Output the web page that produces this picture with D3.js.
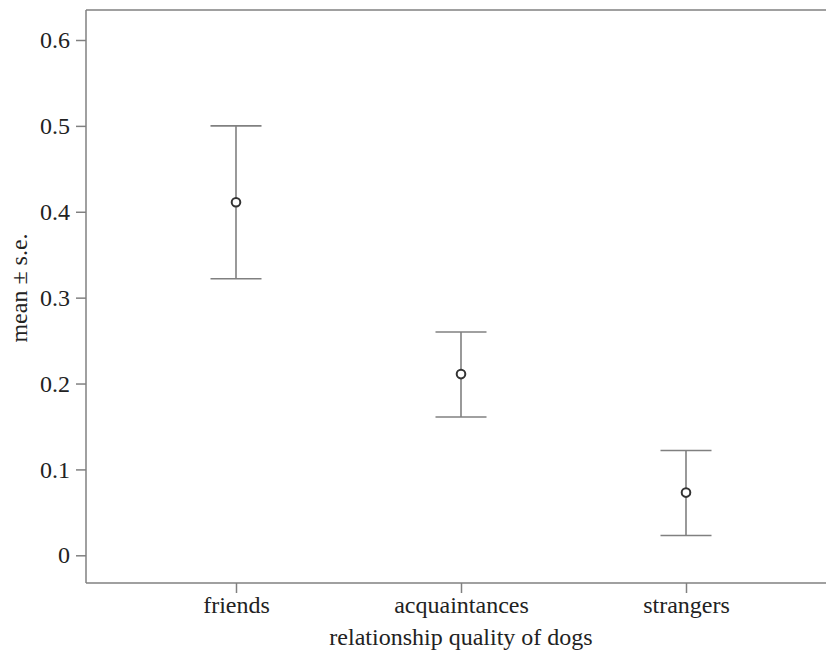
<!DOCTYPE html>
<html>
<head>
<meta charset="utf-8">
<script src="https://cdn.jsdelivr.net/npm/d3@7"></script>
<style>
  html, body { margin: 0; padding: 0; background: #fff; }
  svg { display: block; }
  text { font-family: "Liberation Serif", "Times New Roman", serif; fill: #222; }
</style>
</head>
<body>
<svg id="chart" width="826" height="652"></svg>
<script>
const categories = ["friends", "acquaintances", "strangers"];
const means = [0.411, 0.211, 0.073];
const lower = [0.322, 0.161, 0.023];
const upper = [0.500, 0.260, 0.122];
const yTicks = [0, 0.1, 0.2, 0.3, 0.4, 0.5, 0.6];
const yTickLabels = ["0", "0.1", "0.2", "0.3", "0.4", "0.5", "0.6"];
const xTitle = "relationship quality of dogs";
const yTitle = "mean \u00b1 s.e.";

(function () {
const svg = d3.select("#chart");
const mLeft = 86, mRight = 826, mTop = 10, mBottom = 583;
const axisColor = "#808080";

const y = d3.scaleLinear().domain([0, 0.6]).range([555.3, 40]);
const x = d3.scalePoint().domain(categories).range([236, 686]);

// frame: top line
svg.append("line").attr("x1", mLeft).attr("x2", mRight).attr("y1", mTop).attr("y2", mTop)
  .attr("stroke", axisColor).attr("stroke-width", 1.5);

// y axis
const yAxis = d3.axisLeft(y).tickValues(yTicks).tickFormat((d, i) => yTickLabels[i]).tickSize(10).tickPadding(6);
const gy = svg.append("g").attr("transform", `translate(${mLeft},0)`).call(yAxis);
gy.select(".domain").attr("d", `M0,${mTop}V${mBottom}`).attr("stroke", axisColor).attr("stroke-width", 1.5);
gy.selectAll(".tick line").attr("stroke", axisColor).attr("stroke-width", 1.5);
gy.selectAll(".tick text").attr("font-size", 24).attr("font-family", "Liberation Serif").attr("fill", "#222");

// x axis
const xAxis = d3.axisBottom(x).tickSize(10).tickPadding(4);
const gx = svg.append("g").attr("transform", `translate(0,${mBottom})`).call(xAxis);
gx.select(".domain").attr("d", `M${mLeft},0H${mRight}`).attr("stroke", axisColor).attr("stroke-width", 1.5);
gx.selectAll(".tick line").attr("stroke", axisColor).attr("stroke-width", 1.5);
gx.selectAll(".tick text").attr("font-size", 24).attr("font-family", "Liberation Serif").attr("fill", "#222")
  .attr("dy", null).attr("y", 30);

// error bars
const data = categories.map((c, i) => ({ c, m: means[i], lo: lower[i], hi: upper[i] }));
const capHalf = 25.5;
const eb = svg.append("g").attr("stroke", axisColor).attr("stroke-width", 1.6);
eb.selectAll(".v").data(data).join("line").attr("class", "v")
  .attr("x1", d => x(d.c)).attr("x2", d => x(d.c))
  .attr("y1", d => y(d.hi)).attr("y2", d => y(d.lo));
eb.selectAll(".t").data(data).join("line").attr("class", "t")
  .attr("x1", d => x(d.c) - capHalf).attr("x2", d => x(d.c) + capHalf)
  .attr("y1", d => y(d.hi)).attr("y2", d => y(d.hi));
eb.selectAll(".b").data(data).join("line").attr("class", "b")
  .attr("x1", d => x(d.c) - capHalf).attr("x2", d => x(d.c) + capHalf)
  .attr("y1", d => y(d.lo)).attr("y2", d => y(d.lo));

svg.append("g").selectAll("circle").data(data).join("circle")
  .attr("cx", d => x(d.c)).attr("cy", d => y(d.m)).attr("r", 4.3)
  .attr("fill", "#fff").attr("stroke", "#333").attr("stroke-width", 2);

// titles
svg.append("text").attr("x", 461).attr("y", 645).attr("text-anchor", "middle")
  .attr("font-size", 24).text(xTitle);
svg.append("text").attr("transform", "translate(27,288) rotate(-90)").attr("text-anchor", "middle")
  .attr("font-size", 24).text(yTitle);
})();
</script>
</body>
</html>
